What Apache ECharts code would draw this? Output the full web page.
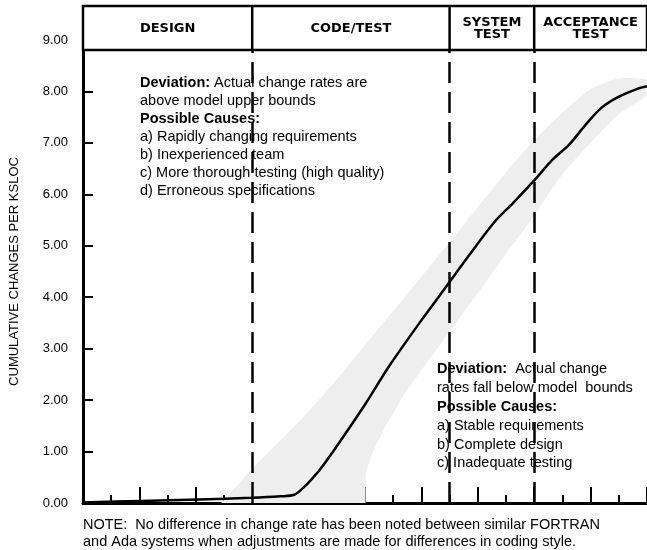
<!DOCTYPE html>
<html>
<head>
<meta charset="utf-8">
<script src="https://cdn.jsdelivr.net/npm/echarts@6/dist/echarts.min.js"></script>
<style>
html,body{margin:0;padding:0;background:#fff;}
#chart{width:647px;height:550px;}
</style>
</head>
<body>
<div id="chart"></div>
<script>
// ---- data ----
const yTicks = [0, 1, 2, 3, 4, 5, 6, 7, 8, 9];
const phaseNames = ['DESIGN', 'CODE/TEST', 'SYSTEM\nTEST', 'ACCEPTANCE\nTEST'];
const phaseBounds = [0, 6, 13, 16, 20];

const curveX = [0, 2.03, 4.12, 5.96, 7.0, 7.49, 7.84, 8.12, 8.39, 8.98, 10.03, 10.83, 12.01, 12.98, 13.75, 14.65, 15.25, 16.05, 16.64, 17.23, 17.82, 18.38, 18.97, 19.66, 20];
const curveY = [0.01, 0.04, 0.07, 0.10, 0.13, 0.16, 0.31, 0.47, 0.64, 1.09, 1.94, 2.64, 3.56, 4.28, 4.86, 5.50, 5.83, 6.30, 6.67, 6.96, 7.35, 7.68, 7.89, 8.05, 8.10];

const bandX     = [4.9, 6, 7, 8, 9, 10, 10.02, 10.04, 10.27, 10.72, 11, 11.42, 12, 13, 14, 15, 16, 17, 18, 19, 20];
const bandUpper = [0, 0.66, 1.22, 1.78, 2.40, 3.07, 3.08, 3.09, 3.25, 3.55, 3.73, 4.01, 4.40, 5.07, 5.75, 6.43, 7.05, 7.59, 8.04, 8.25, 8.22];
const bandLower = [0, 0, 0, 0, 0, 0, 0, 0.58, 0.97, 1.48, 1.74, 2.14, 2.58, 3.33, 4.08, 4.84, 5.59, 6.39, 7.00, 7.56, 7.93];

const noteUpper = [
  '{b|Deviation:} Actual change rates are',
  'above model upper bounds',
  '{b|Possible Causes:}',
  'a) Rapidly changing requirements',
  'b) Inexperienced team',
  'c) More thorough testing (high quality)',
  'd) Erroneous specifications'
];
const noteLower = [
  '{b|Deviation:}  Actual change',
  'rates fall below model  bounds',
  '{b|Possible Causes:}',
  'a) Stable requirements',
  'b) Complete design',
  'c) Inadequate testing'
];
const footNote = [
  'NOTE:  No difference in change rate has been noted between similar FORTRAN',
  'and Ada systems when adjustments are made for differences in coding style.'
];

// ---- chart ----
const FONT = '"Liberation Sans", Arial, sans-serif';
const FS = 14.5;
const chart = echarts.init(document.getElementById('chart'), null, {renderer: 'canvas'});

const curveData = curveX.map((x, i) => [x, curveY[i]]);
const dashData = phaseBounds.slice(1, 4).map(b => [{coord: [b, 0]}, {coord: [b, 9]}]);

chart.setOption({
  animation: false,
  backgroundColor: '#ffffff',
  grid: {left: 82, top: 40, width: 575, height: 463, containLabel: false},
  xAxis: {
    type: 'value', min: 0, max: 20, interval: 2,
    axisLine: {show: true, onZero: false, lineStyle: {color: '#000', width: 3}},
    axisTick: {show: true, inside: true, length: 16, lineStyle: {color: '#000', width: 2}},
    minorTick: {show: true, splitNumber: 2, length: 8, lineStyle: {color: '#000', width: 2}},
    axisLabel: {show: false},
    splitLine: {show: false},
    minorSplitLine: {show: false}
  },
  yAxis: {
    type: 'value', min: 0, max: 9, interval: 1,
    name: 'CUMULATIVE CHANGES PER KSLOC',
    nameLocation: 'middle', nameGap: 62, nameRotate: 90,
    nameTextStyle: {fontFamily: FONT, fontSize: 13, color: '#000'},
    axisLine: {show: true, onZero: false, lineStyle: {color: '#000', width: 3}},
    axisTick: {show: true, inside: true, length: 10, lineStyle: {color: '#000', width: 2}},
    axisLabel: {show: true, margin: 15, fontFamily: FONT, fontSize: 13, color: '#000',
      formatter: v => Number(v).toFixed(2)},
    splitLine: {show: false}
  },
  series: [
    {type: 'custom', silent: true, z: 1, data: [[0, 0]], clip: true,
     renderItem: function (params, api) {
       const pts = [];
       bandX.forEach((x, i) => pts.push(api.coord([x, bandUpper[i]])));
       for (let i = bandX.length - 1; i >= 0; i--) pts.push(api.coord([bandX[i], bandLower[i]]));
       return {type: 'polygon', shape: {points: pts, smooth: 0.2}, style: {fill: '#eeeeee', stroke: null}};
     }},
    {type: 'line', data: curveData, smooth: 0.3, symbol: 'none', silent: true, z: 5,
     lineStyle: {color: '#000', width: 2.5},
     markLine: {silent: true, symbol: 'none', label: {show: false},
       lineStyle: {color: '#000', width: 2.5, type: [21, 9]},
       data: dashData}}
  ]
});

// header and annotations
const px = v => chart.convertToPixel({xAxisIndex: 0}, v);
const HTOP = 6, HBOT = 50;
const gfx = [];
const x0 = px(phaseBounds[0]), xN = px(phaseBounds[phaseBounds.length - 1]);
gfx.push({type: 'rect', z: 100, shape: {x: x0, y: HTOP, width: xN - x0, height: HBOT - HTOP},
  style: {fill: '#fff', stroke: '#000', lineWidth: 2.5}});
phaseBounds.slice(1, 4).forEach(b => {
  const x = px(b);
  gfx.push({type: 'line', z: 101, shape: {x1: x, y1: HTOP, x2: x, y2: HBOT},
    style: {stroke: '#000', lineWidth: 2.5}});
});
phaseNames.forEach((n, i) => {
  const cx = (px(phaseBounds[i]) + px(phaseBounds[i + 1])) / 2;
  gfx.push({type: 'text', z: 102, x: cx, y: 28.5,
    style: {text: n, font: 'bold 13px "DejaVu Sans", sans-serif', fill: '#000',
      align: 'center', verticalAlign: 'middle', lineHeight: 12}});
});
const rich = {b: {fontFamily: FONT, fontWeight: 'bold', fontSize: FS, lineHeight: 18, fill: '#000'}};
gfx.push({type: 'text', z: 102, x: 140, y: 74,
  style: {text: noteUpper.join('\n'), fontFamily: FONT, fontSize: FS, lineHeight: 18, fill: '#000',
    align: 'left', verticalAlign: 'top', rich: rich}});
const rich2 = {b: {fontFamily: FONT, fontWeight: 'bold', fontSize: FS, lineHeight: 18.8, fill: '#000'}};
gfx.push({type: 'text', z: 102, x: 437, y: 360,
  style: {text: noteLower.join('\n'), fontFamily: FONT, fontSize: FS, lineHeight: 18.8, fill: '#000',
    align: 'left', verticalAlign: 'top', rich: rich2}});
gfx.push({type: 'text', z: 102, x: 83, y: 516,
  style: {text: footNote.join('\n'), fontFamily: FONT, fontSize: FS, lineHeight: 17, fill: '#000',
    align: 'left', verticalAlign: 'top'}});
chart.setOption({graphic: {elements: gfx}});
</script>
</body>
</html>
